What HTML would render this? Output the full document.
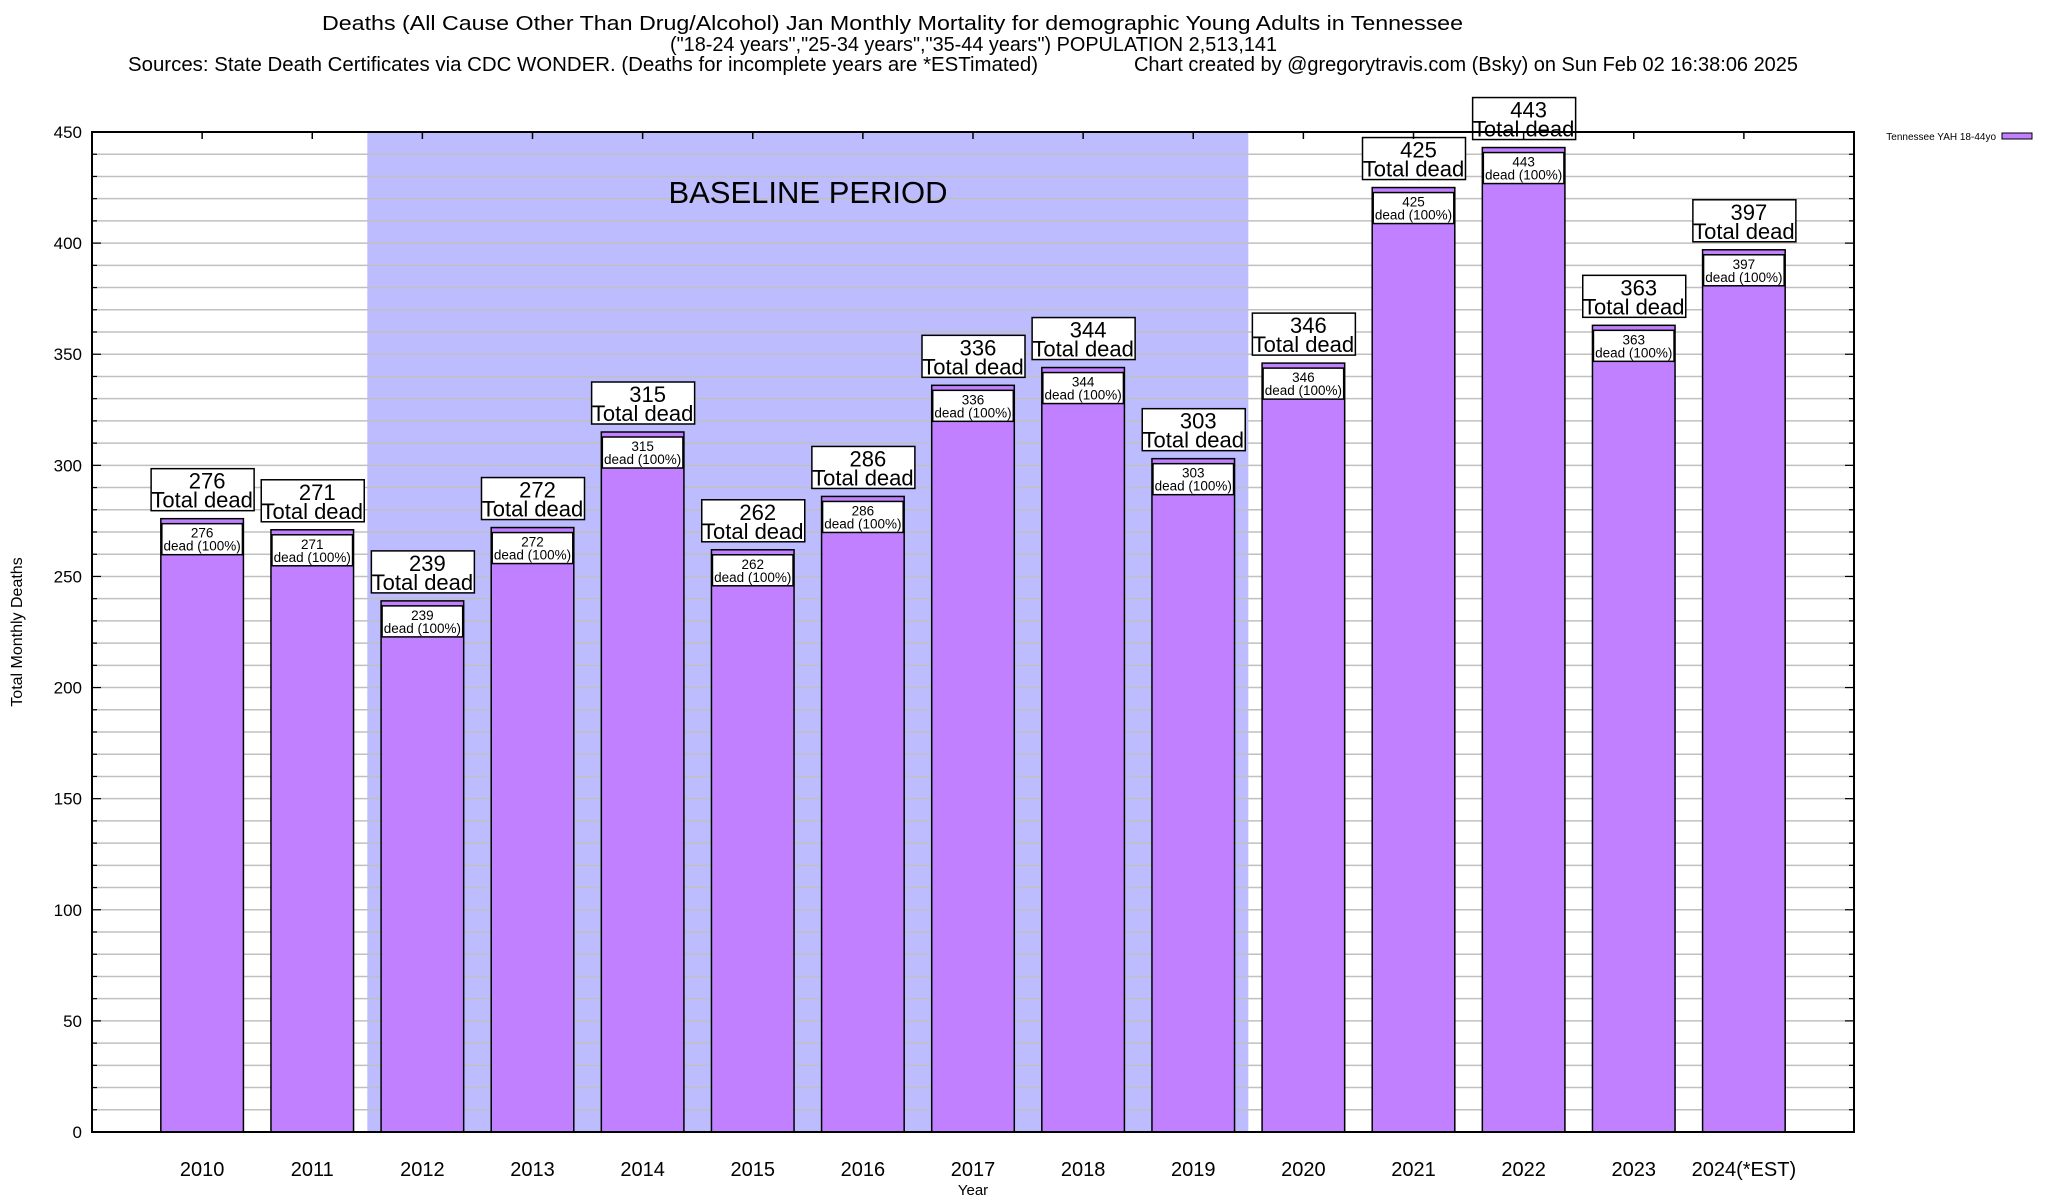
<!DOCTYPE html>
<html><head><meta charset="utf-8"><style>
html,body{margin:0;padding:0;background:#fff;}
svg{display:block;font-family:"Liberation Sans",Arial,sans-serif;}
</style></head><body>
<svg id="chart" width="2048" height="1200" viewBox="0 0 2048 1200" xmlns="http://www.w3.org/2000/svg">
<rect width="2048" height="1200" fill="#fff"/>
<text x="322" y="30" font-size="20" textLength="1141" lengthAdjust="spacingAndGlyphs">Deaths (All Cause Other Than Drug/Alcohol) Jan Monthly Mortality for demographic Young Adults in Tennessee</text>
<text x="670" y="51" font-size="20" textLength="607" lengthAdjust="spacingAndGlyphs">("18-24 years","25-34 years","35-44 years") POPULATION 2,513,141</text>
<text x="128" y="71" font-size="20" textLength="910" lengthAdjust="spacingAndGlyphs">Sources: State Death Certificates via CDC WONDER. (Deaths for incomplete years are *ESTimated)</text>
<text x="1134" y="71" font-size="20" textLength="664" lengthAdjust="spacingAndGlyphs">Chart created by @gregorytravis.com (Bsky) on Sun Feb 02 16:38:06 2025</text>
<g id="plot"></g>
<text transform="translate(22,632) rotate(-90)" text-anchor="middle" font-size="16">Total Monthly Deaths</text>
<text x="973" y="1195" text-anchor="middle" font-size="15">Year</text>
<g>
<text x="1996" y="140" text-anchor="end" font-size="10">Tennessee YAH 18-44yo</text>
<rect x="2002" y="133" width="30" height="6" fill="#c080ff" stroke="#000" stroke-width="1"/>
</g>
</svg>
<script>
const categories = ["2010","2011","2012","2013","2014","2015","2016","2017","2018","2019","2020","2021","2022","2023","2024(*EST)"];
const deaths = [276,271,239,272,315,262,286,336,344,303,346,425,443,363,397];
const yTicks = [0,50,100,150,200,250,300,350,400,450];
const baselineRange = [1.5, 9.5];

const NS = "http://www.w3.org/2000/svg";
const L = 92, R = 1854, T = 132, B = 1132;
const yMax = 450;
const slot = (R - L) / (categories.length + 1);
const xPos = i => L + (i + 1) * slot;
const yPos = v => B - v / yMax * (B - T);
const g = document.getElementById('plot');
function mk(tag, attrs, parent) {
  const e = document.createElementNS(NS, tag);
  for (const k in attrs) e.setAttribute(k, attrs[k]);
  (parent || g).appendChild(e);
  return e;
}
const bl = mk('rect', {x: xPos(baselineRange[0]), y: T, width: xPos(baselineRange[1]) - xPos(baselineRange[0]), height: B - T, fill: '#bcbcff'});


for (let v = 10; v < yMax; v += 10) {
  const gl = mk('line', {x1: L, x2: R, y1: yPos(v), y2: yPos(v), stroke: '#c0c0c0', 'stroke-width': 1.5});
  
  
}
const bt = mk('text', {x: 808, y: 203, 'font-size': 31, 'text-anchor': 'middle'});
bt.textContent = 'BASELINE PERIOD';


const bw = slot * 0.75;
deaths.forEach((v, i) => {
  const cx = xPos(i), x = cx - bw / 2, yt = yPos(v);
  const bar = mk('rect', {x: x, y: yt, width: bw, height: B - yt, fill: '#c080ff', stroke: '#000', 'stroke-width': 1.5});
  
  
  const ib = mk('rect', {x: x + 1, y: yt + 5, width: bw - 2, height: 31, fill: '#fff', stroke: '#000', 'stroke-width': 1.5});
  
  
  const t1 = mk('text', {x: cx, y: yt + 19, 'font-size': 13.5, 'text-anchor': 'middle'});
  t1.textContent = v;
  
  
  const t2 = mk('text', {x: cx, y: yt + 32, 'font-size': 13.5, 'text-anchor': 'middle'});
  t2.textContent = 'dead (100%)';
  
  
  const ob = mk('rect', {x: cx - 51, y: yt - 50, width: 103, height: 42, fill: '#fff', stroke: '#000', 'stroke-width': 1.5});
  
  
  const t3 = mk('text', {x: cx + 5, y: yt - 30, 'font-size': 22, 'text-anchor': 'middle'});
  t3.textContent = v;
  
  
  const t4 = mk('text', {x: cx, y: yt - 11, 'font-size': 22, 'text-anchor': 'middle'});
  t4.textContent = 'Total dead';
  
  
  const xl = mk('text', {x: cx, y: 1176, 'font-size': 20, 'text-anchor': 'middle'});
  xl.textContent = categories[i];
  
  
  const tk = mk('line', {x1: cx, x2: cx, y1: T, y2: T + 7, stroke: '#000', 'stroke-width': 1.5});
  
  
});
yTicks.forEach(v => {
  const t = mk('text', {x: 82, y: yPos(v) + 6, 'font-size': 17, 'text-anchor': 'end'});
  t.textContent = v;
  
  
});
for (let v = 10; v < yMax; v += 10) {
  const big = v % 50 === 0 ? 9 : 5;
  const a = mk('line', {x1: L, x2: L + big, y1: yPos(v), y2: yPos(v), stroke: '#000', 'stroke-width': 1.2});
  
  
  const b = mk('line', {x1: R - big, x2: R, y1: yPos(v), y2: yPos(v), stroke: '#000', 'stroke-width': 1.2});
  
  
}
const fr = mk('rect', {x: L, y: T, width: R - L, height: B - T, fill: 'none', stroke: '#000', 'stroke-width': 2});


</script>
</body></html>
